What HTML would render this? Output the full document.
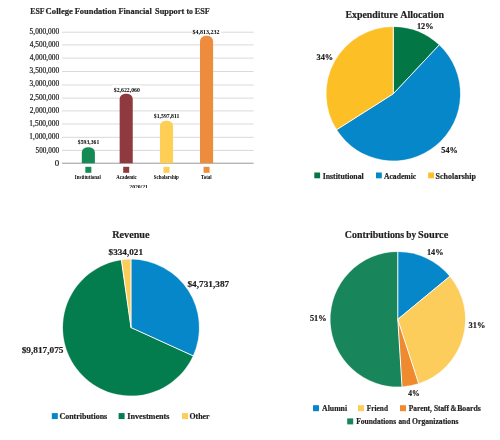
<!DOCTYPE html>
<html><head><meta charset="utf-8"><style>
html,body{margin:0;padding:0;background:#fff;width:500px;height:440px;overflow:hidden}
svg{display:block;will-change:transform;font-family:"Liberation Serif",serif}
</style></head><body>
<svg width="500" height="440" viewBox="0 0 500 440">
<rect width="500" height="440" fill="#fff"/>
<rect x="62" y="31.70" width="191.6" height="1" fill="#d9d9d9"/>
<rect x="62" y="44.40" width="191.6" height="1" fill="#d9d9d9"/>
<rect x="62" y="57.60" width="191.6" height="1" fill="#d9d9d9"/>
<rect x="62" y="71.00" width="191.6" height="1" fill="#d9d9d9"/>
<rect x="62" y="84.50" width="191.6" height="1" fill="#d9d9d9"/>
<rect x="62" y="97.60" width="191.6" height="1" fill="#d9d9d9"/>
<rect x="62" y="110.40" width="191.6" height="1" fill="#d9d9d9"/>
<rect x="62" y="123.50" width="191.6" height="1" fill="#d9d9d9"/>
<rect x="62" y="136.80" width="191.6" height="1" fill="#d9d9d9"/>
<rect x="62" y="149.90" width="191.6" height="1" fill="#d9d9d9"/>
<rect x="62" y="162.70" width="191.6" height="1" fill="#9a9a9a"/>
<path d="M81.80,163.20 L81.80,152.83 A5.6,5.6 0 0 1 87.40,147.23 L89.30,147.23 A5.6,5.6 0 0 1 94.90,152.83 L94.90,163.20 Z" fill="#168a55"/>
<rect x="73.85" y="138.73" width="29" height="6.5" fill="#fff"/>
<rect x="85.35" y="166.8" width="6" height="6" fill="#168a55"/>
<path d="M119.65,163.20 L119.65,99.25 A5.6,5.6 0 0 1 125.25,93.65 L127.15,93.65 A5.6,5.6 0 0 1 132.75,99.25 L132.75,163.20 Z" fill="#8f3a3f"/>
<rect x="111.70" y="85.15" width="29" height="6.5" fill="#fff"/>
<rect x="123.2" y="166.8" width="6" height="6" fill="#8f3a3f"/>
<path d="M159.95,163.20 L159.95,126.30 A5.6,5.6 0 0 1 165.55,120.70 L167.45,120.70 A5.6,5.6 0 0 1 173.05,126.30 L173.05,163.20 Z" fill="#fece55"/>
<rect x="152.00" y="112.20" width="29" height="6.5" fill="#fff"/>
<rect x="163.5" y="166.8" width="6" height="6" fill="#fece55"/>
<path d="M200.00,163.20 L200.00,41.38 A5.6,5.6 0 0 1 205.60,35.78 L207.50,35.78 A5.6,5.6 0 0 1 213.10,41.38 L213.10,163.20 Z" fill="#ee8c3e"/>
<rect x="192.05" y="27.28" width="29" height="6.5" fill="#fff"/>
<rect x="203.55" y="166.8" width="6" height="6" fill="#ee8c3e"/>
<clipPath id="cl"><rect x="100" y="180" width="100" height="8"/></clipPath>
<path d="M393.30,93.80 L393.30,27.00 A66.8,66.8 0 0 1 439.03,45.10 Z" fill="#027644" stroke="#027644" stroke-width="0.3" stroke-linejoin="round"/>
<path d="M393.30,93.80 L439.03,45.10 A66.8,66.8 0 1 1 336.90,129.59 Z" fill="#0587c9" stroke="#0587c9" stroke-width="0.3" stroke-linejoin="round"/>
<path d="M393.30,93.80 L336.90,129.59 A66.8,66.8 0 0 1 393.30,27.00 Z" fill="#fdbf26" stroke="#fdbf26" stroke-width="0.3" stroke-linejoin="round"/>
<line x1="393.30" y1="93.80" x2="393.30" y2="26.00" stroke="#fff" stroke-width="1.0"/>
<line x1="393.30" y1="93.80" x2="439.71" y2="44.38" stroke="#fff" stroke-width="1.0"/>
<line x1="393.30" y1="93.80" x2="336.05" y2="130.13" stroke="#fff" stroke-width="1.0"/>
<rect x="314.3" y="172.5" width="5.8" height="5.8" fill="#027644"/>
<rect x="376" y="172.5" width="5.8" height="5.8" fill="#0587c9"/>
<rect x="428.2" y="172.5" width="5.8" height="5.8" fill="#fdbf26"/>
<path d="M131.00,327.60 L131.00,259.60 A68.0,68.0 0 0 1 192.90,355.75 Z" fill="#0587c9" stroke="#0587c9" stroke-width="0.3" stroke-linejoin="round"/>
<path d="M131.00,327.60 L192.90,355.75 A68.0,68.0 0 1 1 121.44,260.28 Z" fill="#037c4e" stroke="#037c4e" stroke-width="0.3" stroke-linejoin="round"/>
<path d="M131.00,327.60 L121.44,260.28 A68.0,68.0 0 0 1 131.00,259.60 Z" fill="#fdcd5b" stroke="#fdcd5b" stroke-width="0.3" stroke-linejoin="round"/>
<line x1="131.00" y1="327.60" x2="131.00" y2="258.60" stroke="#fff" stroke-width="1.0"/>
<line x1="131.00" y1="327.60" x2="193.81" y2="356.16" stroke="#fff" stroke-width="1.0"/>
<line x1="131.00" y1="327.60" x2="121.30" y2="259.28" stroke="#fff" stroke-width="1.0"/>
<rect x="51.8" y="413.1" width="6" height="6" fill="#0587c9"/>
<rect x="118.6" y="413.1" width="6" height="6" fill="#037c4e"/>
<rect x="182" y="413.1" width="6" height="6" fill="#fdcd5b"/>
<path d="M397.80,319.30 L397.80,252.00 A67.3,67.3 0 0 1 449.66,276.40 Z" fill="#0587c9" stroke="#0587c9" stroke-width="0.3" stroke-linejoin="round"/>
<path d="M397.80,319.30 L449.66,276.40 A67.3,67.3 0 0 1 418.60,383.31 Z" fill="#fdcd5b" stroke="#fdcd5b" stroke-width="0.3" stroke-linejoin="round"/>
<path d="M397.80,319.30 L418.60,383.31 A67.3,67.3 0 0 1 402.03,386.47 Z" fill="#ef8a2e" stroke="#ef8a2e" stroke-width="0.3" stroke-linejoin="round"/>
<path d="M397.80,319.30 L402.03,386.47 A67.3,67.3 0 1 1 397.80,252.00 Z" fill="#18855b" stroke="#18855b" stroke-width="0.3" stroke-linejoin="round"/>
<line x1="397.80" y1="319.30" x2="397.80" y2="251.00" stroke="#fff" stroke-width="1.0"/>
<line x1="397.80" y1="319.30" x2="450.43" y2="275.76" stroke="#fff" stroke-width="1.0"/>
<line x1="397.80" y1="319.30" x2="418.91" y2="384.26" stroke="#fff" stroke-width="1.0"/>
<line x1="397.80" y1="319.30" x2="402.09" y2="387.47" stroke="#fff" stroke-width="1.0"/>
<rect x="313" y="405.2" width="6" height="6" fill="#0587c9"/>
<rect x="358" y="405.2" width="6" height="6" fill="#fdcd5b"/>
<rect x="400" y="405.2" width="6" height="6" fill="#ef8a2e"/>
<rect x="347.2" y="418.4" width="6" height="6" fill="#18855b"/>
<text id="t1a" x="30.27" y="13.5" font-size="8.3" font-weight="bold" fill="#231f20" textLength="14.24" lengthAdjust="spacingAndGlyphs" stroke="#231f20" stroke-width="0.2">ESF</text>
<text id="t1b" x="45.62" y="13.5" font-size="8.3" font-weight="bold" fill="#231f20" textLength="27.29" lengthAdjust="spacingAndGlyphs" stroke="#231f20" stroke-width="0.2">College</text>
<text id="t1c" x="74.67" y="13.5" font-size="8.3" font-weight="bold" fill="#231f20" textLength="41.68" lengthAdjust="spacingAndGlyphs" stroke="#231f20" stroke-width="0.2">Foundation</text>
<text id="t1d" x="118.47" y="13.5" font-size="8.3" font-weight="bold" fill="#231f20" textLength="33.25" lengthAdjust="spacingAndGlyphs" stroke="#231f20" stroke-width="0.2">Financial</text>
<text id="t1e" x="155.02" y="13.5" font-size="8.3" font-weight="bold" fill="#231f20" textLength="29.23" lengthAdjust="spacingAndGlyphs" stroke="#231f20" stroke-width="0.2">Support</text>
<text id="t1f" x="186.47" y="13.5" font-size="8.3" font-weight="bold" fill="#231f20" textLength="6.40" lengthAdjust="spacingAndGlyphs" stroke="#231f20" stroke-width="0.2">to</text>
<text id="t1g" x="194.87" y="13.5" font-size="8.3" font-weight="bold" fill="#231f20" textLength="14.94" lengthAdjust="spacingAndGlyphs" stroke="#231f20" stroke-width="0.2">ESF</text>
<text id="t2a" x="345.47" y="17.8" font-size="10.0" font-weight="bold" fill="#231f20" textLength="52.38" lengthAdjust="spacingAndGlyphs" stroke="#231f20" stroke-width="0.2">Expenditure</text>
<text id="t2b" x="400.17" y="17.8" font-size="10.0" font-weight="bold" fill="#231f20" textLength="44.03" lengthAdjust="spacingAndGlyphs" stroke="#231f20" stroke-width="0.2">Allocation</text>
<text id="p12" x="416.91" y="28.8" font-size="8.0" font-weight="bold" fill="#231f20" textLength="16.58" lengthAdjust="spacingAndGlyphs" stroke="#231f20" stroke-width="0.2">12%</text>
<text id="p34" x="316.53" y="59.8" font-size="8.0" font-weight="bold" fill="#231f20" textLength="16.64" lengthAdjust="spacingAndGlyphs" stroke="#231f20" stroke-width="0.2">34%</text>
<text id="p54" x="441.33" y="152.6" font-size="8.0" font-weight="bold" fill="#231f20" textLength="16.50" lengthAdjust="spacingAndGlyphs" stroke="#231f20" stroke-width="0.2">54%</text>
<text id="le1" x="322.75" y="178.6" font-size="7.9" font-weight="bold" fill="#231f20" textLength="40.95" lengthAdjust="spacingAndGlyphs" stroke="#231f20" stroke-width="0.2">Institutional</text>
<text id="le2" x="384.00" y="178.6" font-size="7.9" font-weight="bold" fill="#231f20" textLength="32.13" lengthAdjust="spacingAndGlyphs" stroke="#231f20" stroke-width="0.2">Academic</text>
<text id="le3" x="435.62" y="178.6" font-size="7.9" font-weight="bold" fill="#231f20" textLength="40.34" lengthAdjust="spacingAndGlyphs" stroke="#231f20" stroke-width="0.2">Scholarship</text>
<text id="t3" x="112.27" y="237.6" font-size="10.0" font-weight="bold" fill="#231f20" textLength="37.23" lengthAdjust="spacingAndGlyphs" stroke="#231f20" stroke-width="0.2">Revenue</text>
<text id="r1" x="108.64" y="255.2" font-size="9.0" font-weight="bold" fill="#231f20" textLength="34.34" lengthAdjust="spacingAndGlyphs" stroke="#231f20" stroke-width="0.2">$334,021</text>
<text id="r2" x="187.45" y="286.8" font-size="9.0" font-weight="bold" fill="#231f20" textLength="41.73" lengthAdjust="spacingAndGlyphs" stroke="#231f20" stroke-width="0.2">$4,731,387</text>
<text id="r3" x="21.65" y="353.2" font-size="9.0" font-weight="bold" fill="#231f20" textLength="41.86" lengthAdjust="spacingAndGlyphs" stroke="#231f20" stroke-width="0.2">$9,817,075</text>
<text id="lr1" x="59.42" y="419.0" font-size="7.9" font-weight="bold" fill="#231f20" textLength="47.78" lengthAdjust="spacingAndGlyphs" stroke="#231f20" stroke-width="0.2">Contributions</text>
<text id="lr2" x="127.25" y="419.0" font-size="7.9" font-weight="bold" fill="#231f20" textLength="42.30" lengthAdjust="spacingAndGlyphs" stroke="#231f20" stroke-width="0.2">Investments</text>
<text id="lr3" x="189.42" y="419.0" font-size="7.9" font-weight="bold" fill="#231f20" textLength="20.09" lengthAdjust="spacingAndGlyphs" stroke="#231f20" stroke-width="0.2">Other</text>
<text id="t4a" x="344.79" y="238.2" font-size="9.9" font-weight="bold" fill="#231f20" textLength="59.41" lengthAdjust="spacingAndGlyphs" stroke="#231f20" stroke-width="0.2">Contributions</text>
<text id="t4b" x="406.37" y="238.2" font-size="9.9" font-weight="bold" fill="#231f20" textLength="9.76" lengthAdjust="spacingAndGlyphs" stroke="#231f20" stroke-width="0.2">by</text>
<text id="t4c" x="417.99" y="238.2" font-size="9.9" font-weight="bold" fill="#231f20" textLength="30.27" lengthAdjust="spacingAndGlyphs" stroke="#231f20" stroke-width="0.2">Source</text>
<text id="c14" x="426.91" y="255.0" font-size="8.0" font-weight="bold" fill="#231f20" textLength="16.58" lengthAdjust="spacingAndGlyphs" stroke="#231f20" stroke-width="0.2">14%</text>
<text id="c31" x="468.63" y="327.9" font-size="8.0" font-weight="bold" fill="#231f20" textLength="16.78" lengthAdjust="spacingAndGlyphs" stroke="#231f20" stroke-width="0.2">31%</text>
<text id="c51" x="309.93" y="320.7" font-size="8.0" font-weight="bold" fill="#231f20" textLength="16.71" lengthAdjust="spacingAndGlyphs" stroke="#231f20" stroke-width="0.2">51%</text>
<text id="c4" x="408.27" y="395.8" font-size="8.0" font-weight="bold" fill="#231f20" textLength="11.38" lengthAdjust="spacingAndGlyphs" stroke="#231f20" stroke-width="0.2">4%</text>
<text id="lc1" x="322.00" y="410.7" font-size="7.6" font-weight="bold" fill="#231f20" textLength="25.13" lengthAdjust="spacingAndGlyphs" stroke="#231f20" stroke-width="0.2">Alumni</text>
<text id="lc2" x="366.87" y="410.7" font-size="7.6" font-weight="bold" fill="#231f20" textLength="21.13" lengthAdjust="spacingAndGlyphs" stroke="#231f20" stroke-width="0.2">Friend</text>
<text id="lc3a" x="408.77" y="410.7" font-size="7.6" font-weight="bold" fill="#231f20" textLength="23.16" lengthAdjust="spacingAndGlyphs" stroke="#231f20" stroke-width="0.2">Parent,</text>
<text id="lc3b" x="433.92" y="410.7" font-size="7.6" font-weight="bold" fill="#231f20" textLength="15.11" lengthAdjust="spacingAndGlyphs" stroke="#231f20" stroke-width="0.2">Staff</text>
<text id="lc3c" x="450.57" y="410.7" font-size="7.6" font-weight="bold" fill="#231f20" textLength="6.07" lengthAdjust="spacingAndGlyphs" stroke="#231f20" stroke-width="0.2">&amp;</text>
<text id="lc3d" x="457.17" y="410.7" font-size="7.6" font-weight="bold" fill="#231f20" textLength="23.75" lengthAdjust="spacingAndGlyphs" stroke="#231f20" stroke-width="0.2">Boards</text>
<text id="lc4a" x="356.17" y="424.3" font-size="7.6" font-weight="bold" fill="#231f20" textLength="40.03" lengthAdjust="spacingAndGlyphs" stroke="#231f20" stroke-width="0.2">Foundations</text>
<text id="lc4b" x="398.44" y="424.3" font-size="7.6" font-weight="bold" fill="#231f20" textLength="11.89" lengthAdjust="spacingAndGlyphs" stroke="#231f20" stroke-width="0.2">and</text>
<text id="lc4c" x="412.12" y="424.3" font-size="7.6" font-weight="bold" fill="#231f20" textLength="46.28" lengthAdjust="spacingAndGlyphs" stroke="#231f20" stroke-width="0.2">Organizations</text>
<text id="y0" x="29.62" y="33.5" font-size="7.2" font-weight="normal" fill="#1a1a1a" textLength="29.49" lengthAdjust="spacingAndGlyphs" stroke="#1a1a1a" stroke-width="0.2">5,000,000</text>
<text id="y1" x="29.87" y="46.74" font-size="7.2" font-weight="normal" fill="#1a1a1a" textLength="29.23" lengthAdjust="spacingAndGlyphs" stroke="#1a1a1a" stroke-width="0.2">4,500,000</text>
<text id="y2" x="29.87" y="59.98" font-size="7.2" font-weight="normal" fill="#1a1a1a" textLength="29.23" lengthAdjust="spacingAndGlyphs" stroke="#1a1a1a" stroke-width="0.2">4,000,000</text>
<text id="y3" x="29.62" y="73.22" font-size="7.2" font-weight="normal" fill="#1a1a1a" textLength="29.49" lengthAdjust="spacingAndGlyphs" stroke="#1a1a1a" stroke-width="0.2">3,500,000</text>
<text id="y4" x="29.62" y="86.46" font-size="7.2" font-weight="normal" fill="#1a1a1a" textLength="29.49" lengthAdjust="spacingAndGlyphs" stroke="#1a1a1a" stroke-width="0.2">3,000,000</text>
<text id="y5" x="29.75" y="99.7" font-size="7.2" font-weight="normal" fill="#1a1a1a" textLength="29.36" lengthAdjust="spacingAndGlyphs" stroke="#1a1a1a" stroke-width="0.2">2,500,000</text>
<text id="y6" x="29.75" y="112.94" font-size="7.2" font-weight="normal" fill="#1a1a1a" textLength="29.36" lengthAdjust="spacingAndGlyphs" stroke="#1a1a1a" stroke-width="0.2">2,000,000</text>
<text id="y7" x="29.35" y="126.18" font-size="7.2" font-weight="normal" fill="#1a1a1a" textLength="29.76" lengthAdjust="spacingAndGlyphs" stroke="#1a1a1a" stroke-width="0.2">1,500,000</text>
<text id="y8" x="29.35" y="139.42" font-size="7.2" font-weight="normal" fill="#1a1a1a" textLength="29.76" lengthAdjust="spacingAndGlyphs" stroke="#1a1a1a" stroke-width="0.2">1,000,000</text>
<text id="y9" x="35.61" y="152.66" font-size="7.2" font-weight="normal" fill="#1a1a1a" textLength="23.50" lengthAdjust="spacingAndGlyphs" stroke="#1a1a1a" stroke-width="0.2">500,000</text>
<text id="y10" x="54.71" y="165.9" font-size="7.2" font-weight="normal" fill="#1a1a1a" textLength="4.44" lengthAdjust="spacingAndGlyphs" stroke="#1a1a1a" stroke-width="0.2">0</text>
<text id="b1" x="77.87" y="144.1" font-size="5.8" font-weight="bold" fill="#000" textLength="21.38" lengthAdjust="spacingAndGlyphs">$593,361</text>
<text id="b2" x="113.75" y="91.7" font-size="5.8" font-weight="bold" fill="#000" textLength="26.16" lengthAdjust="spacingAndGlyphs">$2,622,060</text>
<text id="b3" x="153.87" y="118.2" font-size="5.8" font-weight="bold" fill="#000" textLength="25.58" lengthAdjust="spacingAndGlyphs">$1,597,811</text>
<text id="b4" x="192.54" y="33.6" font-size="5.8" font-weight="bold" fill="#000" textLength="26.94" lengthAdjust="spacingAndGlyphs">$4,813,232</text>
<text id="n1" x="74.87" y="178.7" font-size="5.5" font-weight="bold" fill="#000" textLength="25.90" lengthAdjust="spacingAndGlyphs">Institutional</text>
<text id="n2" x="116.30" y="178.7" font-size="5.5" font-weight="bold" fill="#000" textLength="20.48" lengthAdjust="spacingAndGlyphs">Academic</text>
<text id="n3" x="153.84" y="178.7" font-size="5.5" font-weight="bold" fill="#000" textLength="25.01" lengthAdjust="spacingAndGlyphs">Scholarship</text>
<text id="n4" x="200.90" y="178.7" font-size="5.5" font-weight="bold" fill="#000" textLength="10.70" lengthAdjust="spacingAndGlyphs">Total</text>
<text id="yr" x="129.34" y="189.4" font-size="5.8" font-weight="bold" fill="#000" textLength="18.51" lengthAdjust="spacingAndGlyphs" clip-path="url(#cl)">2020/21</text>
</svg>
</body></html>
